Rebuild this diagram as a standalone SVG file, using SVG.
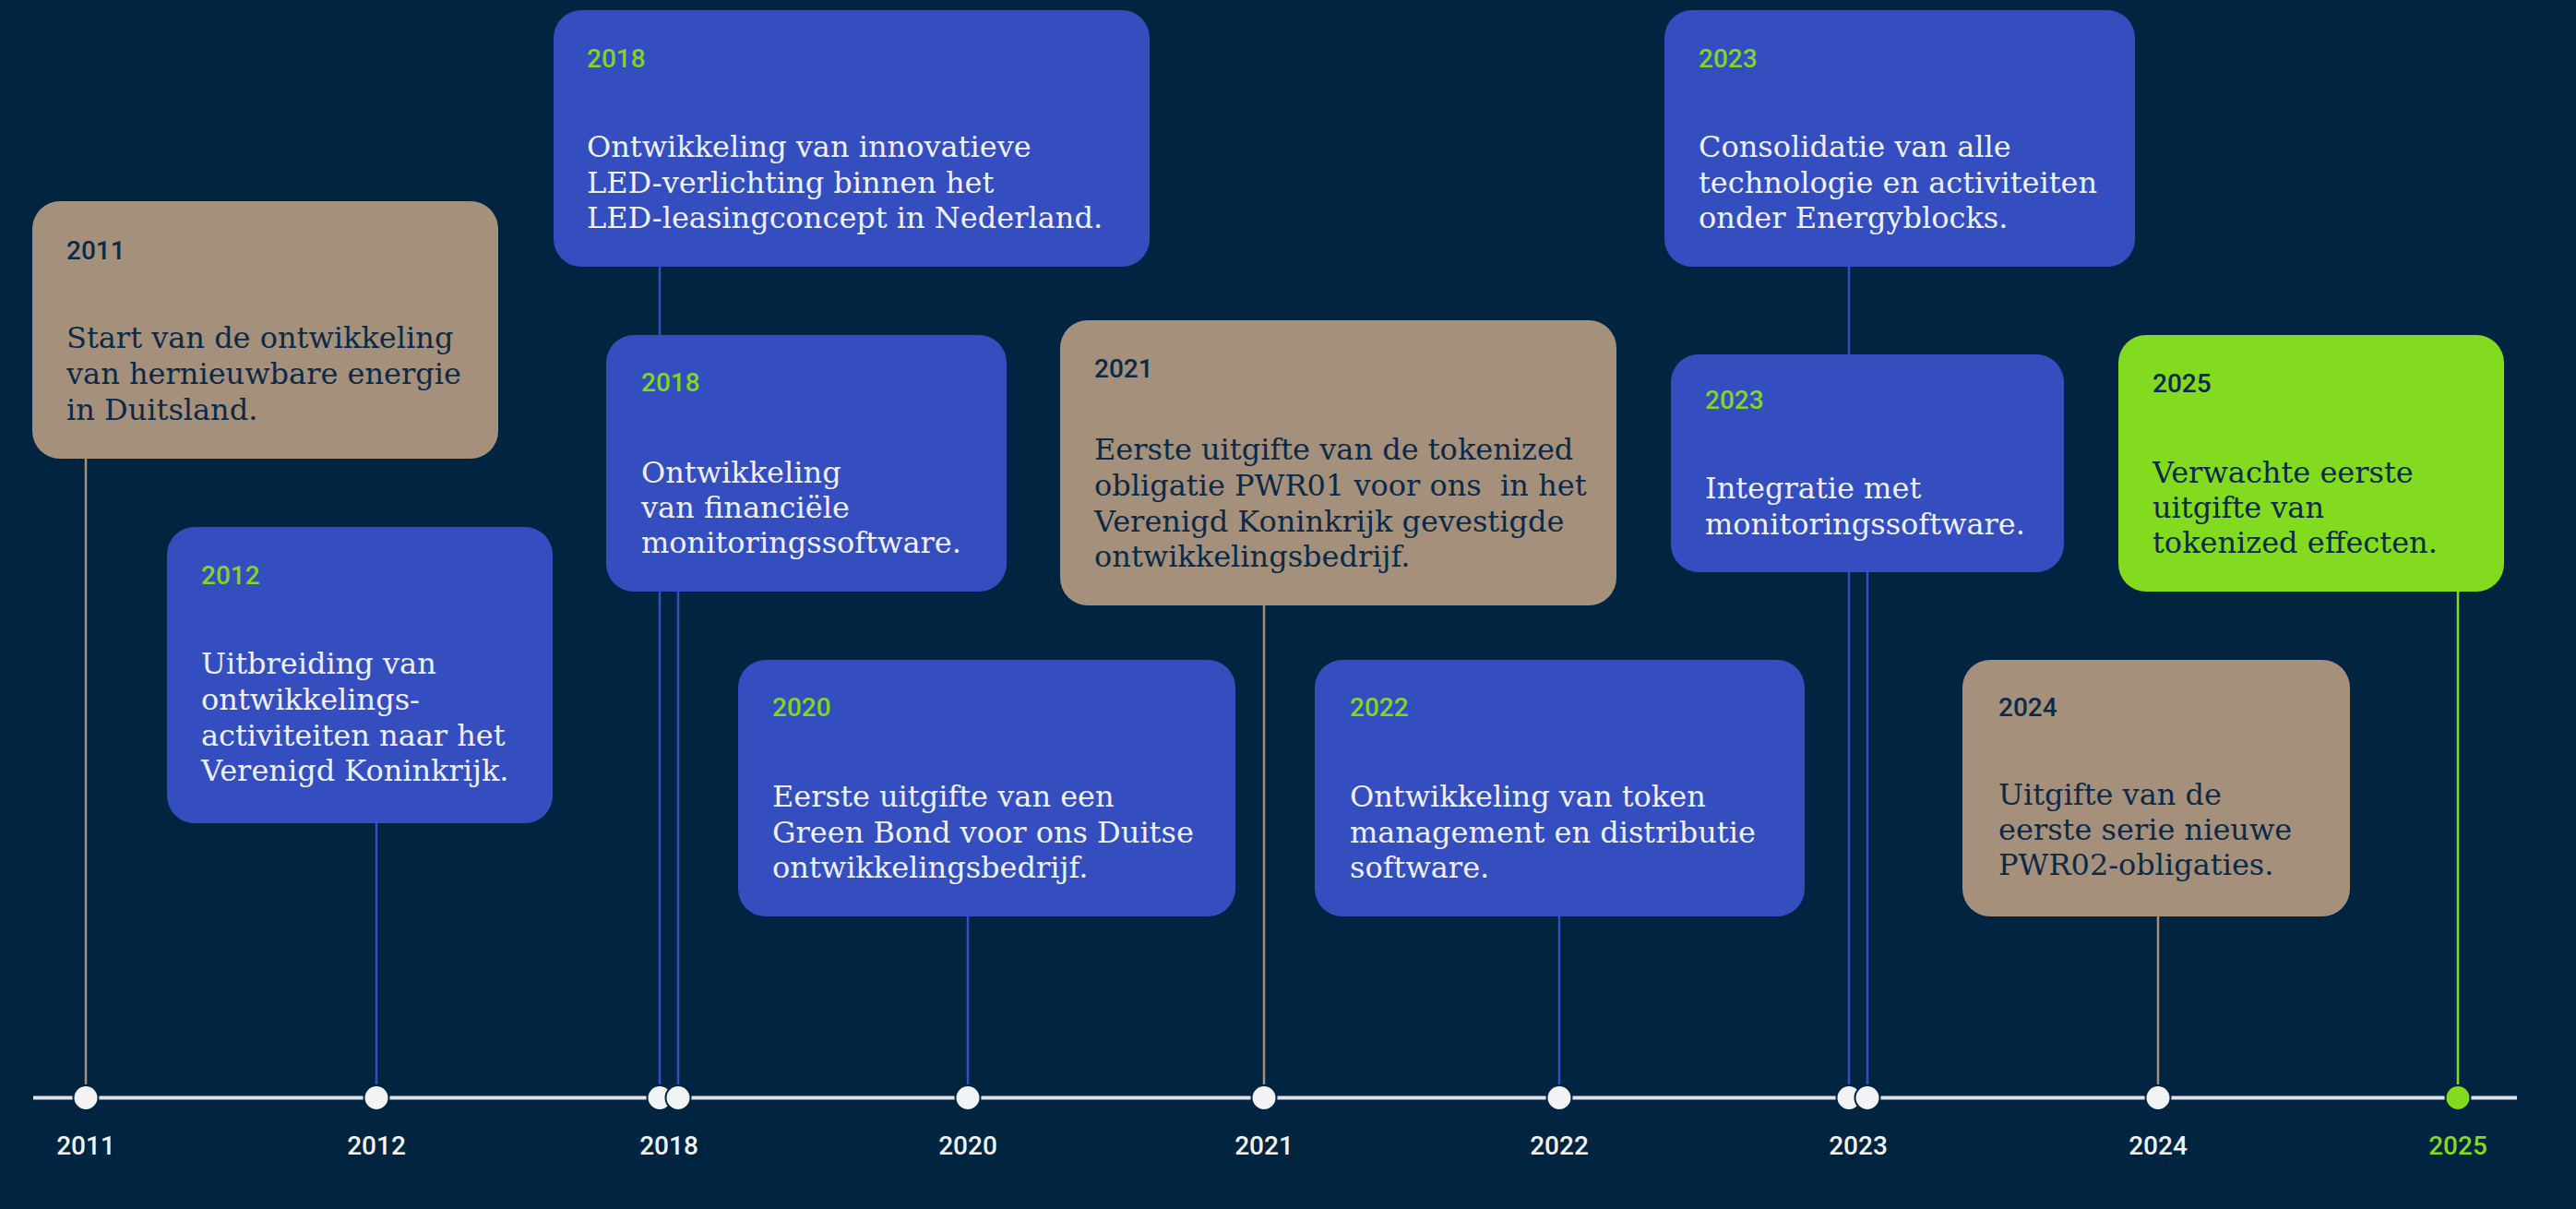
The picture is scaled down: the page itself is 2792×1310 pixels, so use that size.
<svg xmlns="http://www.w3.org/2000/svg" width="2792" height="1310" viewBox="0 0 2792 1310">
<style>
.bg{fill:#012441}
.blue{fill:#354ebf}
.tan{fill:#a5907b}
.green{fill:#82db1f}
.yr{font-family:Roboto,"Liberation Sans",sans-serif;font-weight:500;font-size:28px}
.ds{font-family:"DejaVu Serif","Liberation Serif",serif;font-size:32px}
.yg{fill:#7fd623}
.yd{fill:#0c2a47}
.tw{fill:#eef0f8}
.td{fill:#0c2a47}
.cb{stroke:#354ebf;stroke-width:2.5;fill:none}
.ct{stroke:#a5907b;stroke-width:2.5;fill:none}
.cg{stroke:#82db1f;stroke-width:2.5;fill:none}
.dot{fill:#f2f3f5;stroke:#012441;stroke-width:2}
.ax{font-family:Roboto,"Liberation Sans",sans-serif;font-weight:500;font-size:28px;fill:#f2f3f5;text-anchor:middle}
</style>
<rect class="bg" x="0" y="0" width="2792" height="1310"/>
<g id="connectors">
<line class="ct" x1="93" y1="497" x2="93" y2="1189"/>
<line class="cb" x1="408" y1="892" x2="408" y2="1189"/>
<line class="cb" x1="715" y1="289" x2="715" y2="1189"/>
<line class="cb" x1="735" y1="641" x2="735" y2="1189"/>
<line class="cb" x1="1049" y1="993" x2="1049" y2="1189"/>
<line class="ct" x1="1370" y1="656" x2="1370" y2="1189"/>
<line class="cb" x1="1690" y1="993" x2="1690" y2="1189"/>
<line class="cb" x1="2004" y1="289" x2="2004" y2="1189"/>
<line class="cb" x1="2024" y1="620" x2="2024" y2="1189"/>
<line class="ct" x1="2339" y1="993" x2="2339" y2="1189"/>
<line class="cg" x1="2664" y1="641" x2="2664" y2="1189"/>
</g>
<g id="axis">
<line x1="36" y1="1189.5" x2="2728" y2="1189.5" stroke="#dfe3e8" stroke-width="4"/>
<circle class="dot" cx="93" cy="1189.5" r="13.5"/>
<circle class="dot" cx="408" cy="1189.5" r="13.5"/>
<circle class="dot" cx="715" cy="1189.5" r="13.5"/>
<circle class="dot" cx="735" cy="1189.5" r="13.5"/>
<circle class="dot" cx="1049" cy="1189.5" r="13.5"/>
<circle class="dot" cx="1370" cy="1189.5" r="13.5"/>
<circle class="dot" cx="1690" cy="1189.5" r="13.5"/>
<circle class="dot" cx="2004" cy="1189.5" r="13.5"/>
<circle class="dot" cx="2024" cy="1189.5" r="13.5"/>
<circle class="dot" cx="2339" cy="1189.5" r="13.5"/>
<circle class="dot" cx="2664" cy="1189.5" r="13.5" style="fill:#82db1f"/>
<text class="ax" x="93" y="1251">2011</text>
<text class="ax" x="408" y="1251">2012</text>
<text class="ax" x="725" y="1251">2018</text>
<text class="ax" x="1049" y="1251">2020</text>
<text class="ax" x="1370" y="1251">2021</text>
<text class="ax" x="1690" y="1251">2022</text>
<text class="ax" x="2014" y="1251">2023</text>
<text class="ax" x="2339" y="1251">2024</text>
<text class="ax" x="2664" y="1251" style="fill:#82db1f">2025</text>
</g>
<g id="n2011">
<rect class="tan" x="35" y="218" width="505" height="279" rx="30"/>
<text class="yr yd" x="72" y="281">2011</text>
<text class="ds td" x="72" y="377">Start van de ontwikkeling</text>
<text class="ds td" x="72" y="416">van hernieuwbare energie</text>
<text class="ds td" x="72" y="455">in Duitsland.</text>
</g>
<g id="n2012">
<rect class="blue" x="181" y="571" width="418" height="321" rx="30"/>
<text class="yr yg" x="218" y="633">2012</text>
<text class="ds tw" x="218" y="730">Uitbreiding van</text>
<text class="ds tw" x="218" y="769">ontwikkelings-</text>
<text class="ds tw" x="218" y="808">activiteiten naar het</text>
<text class="ds tw" x="218" y="846">Verenigd Koninkrijk.</text>
</g>
<g id="n2018a">
<rect class="blue" x="600" y="11" width="646" height="278" rx="30"/>
<text class="yr yg" x="636" y="73">2018</text>
<text class="ds tw" x="636" y="170">Ontwikkeling van innovatieve</text>
<text class="ds tw" x="636" y="209">LED-verlichting binnen het</text>
<text class="ds tw" x="636" y="247">LED-leasingconcept in Nederland.</text>
</g>
<g id="n2018b">
<rect class="blue" x="657" y="363" width="434" height="278" rx="30"/>
<text class="yr yg" x="695" y="424">2018</text>
<text class="ds tw" x="695" y="523">Ontwikkeling</text>
<text class="ds tw" x="695" y="561">van financiële</text>
<text class="ds tw" x="695" y="599">monitoringssoftware.</text>
</g>
<g id="n2020">
<rect class="blue" x="800" y="715" width="539" height="278" rx="30"/>
<text class="yr yg" x="837" y="776">2020</text>
<text class="ds tw" x="837" y="874">Eerste uitgifte van een</text>
<text class="ds tw" x="837" y="913">Green Bond voor ons Duitse</text>
<text class="ds tw" x="837" y="951">ontwikkelingsbedrijf.</text>
</g>
<g id="n2021">
<rect class="tan" x="1149" y="347" width="603" height="309" rx="30"/>
<text class="yr yd" x="1186" y="409">2021</text>
<text class="ds td" x="1186" y="498">Eerste uitgifte van de tokenized</text>
<text class="ds td" x="1186" y="537" style="white-space:pre">obligatie PWR01 voor ons  in het</text>
<text class="ds td" x="1186" y="576">Verenigd Koninkrijk gevestigde</text>
<text class="ds td" x="1186" y="614">ontwikkelingsbedrijf.</text>
</g>
<g id="n2022">
<rect class="blue" x="1425" y="715" width="531" height="278" rx="30"/>
<text class="yr yg" x="1463" y="776">2022</text>
<text class="ds tw" x="1463" y="874">Ontwikkeling van token</text>
<text class="ds tw" x="1463" y="913">management en distributie</text>
<text class="ds tw" x="1463" y="951">software.</text>
</g>
<g id="n2023a">
<rect class="blue" x="1804" y="11" width="510" height="278" rx="30"/>
<text class="yr yg" x="1841" y="73">2023</text>
<text class="ds tw" x="1841" y="170">Consolidatie van alle</text>
<text class="ds tw" x="1841" y="209">technologie en activiteiten</text>
<text class="ds tw" x="1841" y="247">onder Energyblocks.</text>
</g>
<g id="n2023b">
<rect class="blue" x="1811" y="384" width="426" height="236" rx="30"/>
<text class="yr yg" x="1848" y="443">2023</text>
<text class="ds tw" x="1848" y="540">Integratie met</text>
<text class="ds tw" x="1848" y="579">monitoringssoftware.</text>
</g>
<g id="n2024">
<rect class="tan" x="2127" y="715" width="420" height="278" rx="30"/>
<text class="yr yd" x="2166" y="776">2024</text>
<text class="ds td" x="2166" y="872">Uitgifte van de</text>
<text class="ds td" x="2166" y="910">eerste serie nieuwe</text>
<text class="ds td" x="2166" y="948">PWR02-obligaties.</text>
</g>
<g id="n2025">
<rect class="green" x="2296" y="363" width="418" height="278" rx="30"/>
<text class="yr yd" x="2333" y="425">2025</text>
<text class="ds td" x="2333" y="523">Verwachte eerste</text>
<text class="ds td" x="2333" y="561">uitgifte van</text>
<text class="ds td" x="2333" y="599">tokenized effecten.</text>
</g>
</svg>
